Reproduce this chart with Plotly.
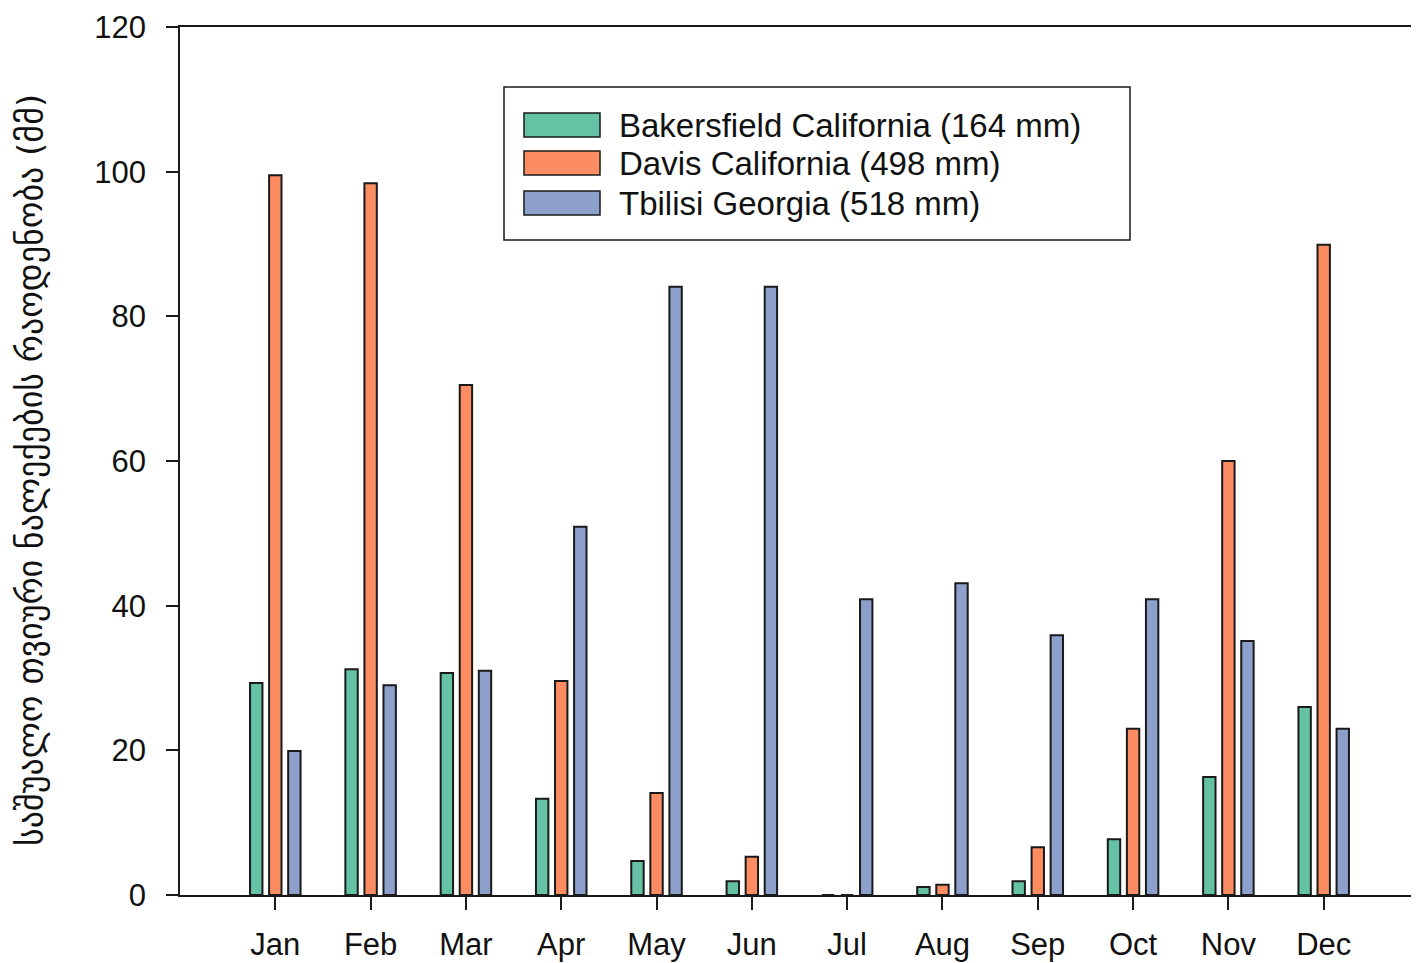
import plotly.graph_objects as go

months = ["Jan", "Feb", "Mar", "Apr", "May", "Jun", "Jul", "Aug", "Sep", "Oct", "Nov", "Dec"]
series_names = ["Bakersfield California (164 mm)", "Davis California (498 mm)", "Tbilisi Georgia (518 mm)"]
bakersfield = [29.3, 31.2, 30.7, 13.3, 4.7, 1.9, 0.0, 1.1, 1.9, 7.7, 16.3, 26.0]
davis = [99.5, 98.4, 70.5, 29.6, 14.1, 5.3, 0.0, 1.4, 6.6, 23.0, 60.0, 89.9]
tbilisi = [19.9, 29.0, 31.0, 50.9, 84.1, 84.1, 40.9, 43.1, 35.9, 40.9, 35.1, 23.0]
colors = ["#66c2a5", "#fc8d62", "#8da0cb"]
y_ticks = [0, 20, 40, 60, 80, 100, 120]
y_title = "საშუალო თვიური ნალექების რაოდენობა (მმ)"

# page body has an 8px margin; shrink figure so it lands on the window grid
OFF = 8
W, H = 1419 - OFF, 963 - OFF
L, T = 180 - OFF, 27 - OFF
pw, ph = 1239, 868
R, B = W - L - pw, H - T - ph

x_pos = list(range(1, len(months) + 1))

fig = go.Figure()
for name, vals, col in zip(series_names, [bakersfield, davis, tbilisi], colors):
    fig.add_trace(go.Bar(
        x=x_pos, y=vals, name=name, showlegend=False,
        marker=dict(color=col, line=dict(color="#1a1a1a", width=2)),
    ))

# helpers converting window pixel positions into paper coordinates
def px_x(p):
    return (p - OFF - L) / pw

def px_y(p):
    return (T + ph - (p - OFF)) / ph

shapes = [dict(type="rect", xref="paper", yref="paper",
               x0=px_x(504), x1=px_x(1130), y0=px_y(240), y1=px_y(87),
               line=dict(color="#1a1a1a", width=1.5), fillcolor="white", layer="above")]
annotations = []
row_centers = [125, 163, 203]
for name, col, yc in zip(series_names, colors, row_centers):
    shapes.append(dict(type="rect", xref="paper", yref="paper",
                       x0=px_x(524), x1=px_x(600), y0=px_y(yc + 12), y1=px_y(yc - 12),
                       line=dict(color="#1a1a1a", width=1.5), fillcolor=col, layer="above"))
    annotations.append(dict(xref="paper", yref="paper", x=px_x(617), y=px_y(yc),
                            xanchor="left", yanchor="middle", showarrow=False,
                            text=name, font=dict(family="Liberation Sans, Arial", size=33, color="#111")))

annotations.append(dict(xref="paper", yref="paper", x=px_x(30), y=px_y(470),
                        xanchor="center", yanchor="middle", showarrow=False, textangle=-90,
                        text=y_title, font=dict(family="DejaVu Sans", size=34, color="#111")))

fig.update_layout(
    width=W, height=H,
    margin=dict(l=L, r=R, t=T, b=B, autoexpand=False),
    paper_bgcolor="white", plot_bgcolor="white",
    barmode="group", bargap=0.4, bargroupgap=0.35,
    font=dict(family="Liberation Sans, Arial", size=31, color="#111"),
    shapes=shapes, annotations=annotations,
    xaxis=dict(range=[0, 13], tickmode="array", tickvals=x_pos, ticktext=months,
               showgrid=False, zeroline=False, showline=True, linecolor="#1a1a1a", linewidth=1.5,
               mirror=True, ticks="outside", ticklen=13, tickwidth=1.5, tickcolor="#1a1a1a",
               ticklabelstandoff=8),
    yaxis=dict(range=[0, 120], tickmode="array", tickvals=y_ticks,
               showgrid=False, zeroline=False, showline=True, linecolor="#1a1a1a", linewidth=1.5,
               ticks="outside", ticklen=12, tickwidth=1.5, tickcolor="#1a1a1a",
               ticklabelstandoff=14),
)

fig.write_html("out.html")
